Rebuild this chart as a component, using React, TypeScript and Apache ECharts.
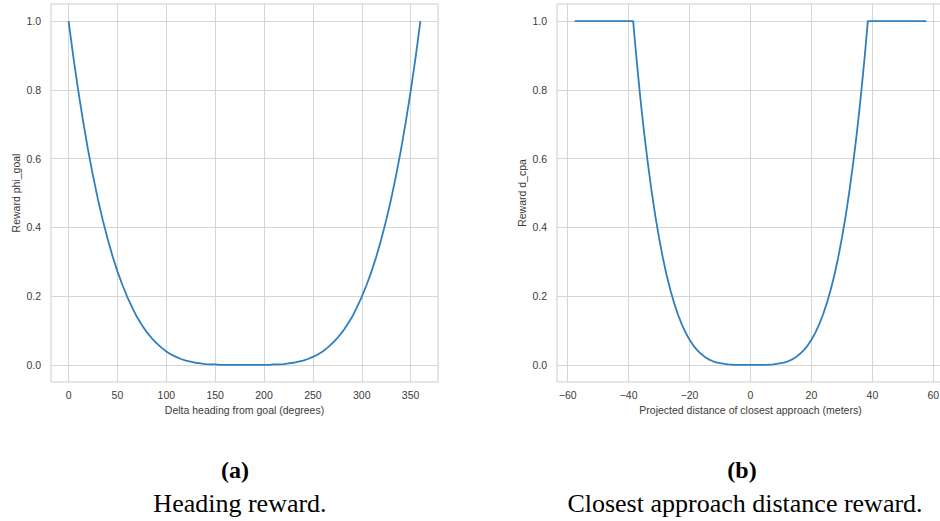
import React, { useEffect, useRef } from "react";
import * as echarts from "echarts";

// Heading reward (a)
const headingDeg = [
  0, 5, 10, 15, 20, 25, 30, 35, 40, 45, 50, 55, 60, 65, 70, 75, 80, 85, 90, 95,
  100, 105, 110, 115, 120, 125, 130, 135, 140, 145, 150, 155, 160, 165, 170, 175,
  180, 185, 190, 195, 200, 205, 210, 215, 220, 225, 230, 235, 240, 245, 250, 255,
  260, 265, 270, 275, 280, 285, 290, 295, 300, 305, 310, 315, 320, 325, 330, 335,
  340, 345, 350, 355, 360,
];
const headingReward = [
  1, 0.893, 0.796, 0.706, 0.624, 0.55, 0.482, 0.421, 0.366, 0.316, 0.272, 0.233,
  0.198, 0.167, 0.139, 0.116, 0.095, 0.078, 0.063, 0.05, 0.039, 0.03, 0.023, 0.017,
  0.012, 0.009, 0.006, 0.004, 0.002, 0.001, 0.001, 0, 0, 0, 0, 0,
  0, 0, 0, 0, 0, 0, 0.001, 0.001, 0.002, 0.004, 0.006, 0.009, 0.012, 0.017, 0.023,
  0.03, 0.039, 0.05, 0.063, 0.078, 0.095, 0.116, 0.139, 0.167, 0.198, 0.233, 0.272,
  0.316, 0.366, 0.421, 0.482, 0.55, 0.624, 0.706, 0.796, 0.893, 1,
];
const headingTicks = [0, 50, 100, 150, 200, 250, 300, 350];

// Closest approach distance reward (b)
const cpaMeters = [
  -57.7, -50, -45, -40, -38.5, -38, -37.5, -37, -36.5, -36, -35.5, -35, -34.5,
  -33.75, -32.5, -31.25, -30, -28.75, -27.5, -26.25, -25, -23.75, -22.5, -21.25,
  -20, -18.75, -17.5, -16.25, -15, -13.75, -12.5, -11.25, -10, -7.5, -5, -2.5,
  0,
  2.5, 5, 7.5, 10, 11.25, 12.5, 13.75, 15, 16.25, 17.5, 18.75, 20, 21.25, 22.5,
  23.75, 25, 26.25, 27.5, 28.75, 30, 31.25, 32.5, 33.75, 34.5, 35, 35.5, 36, 36.5,
  37, 37.5, 38, 38.5, 40, 45, 50, 57.7,
];
const cpaReward = [
  1, 1, 1, 1, 1, 0.949, 0.9, 0.853, 0.808, 0.764, 0.723, 0.683, 0.645,
  0.591, 0.508, 0.434, 0.369, 0.311, 0.26, 0.216, 0.178, 0.145, 0.117, 0.093,
  0.073, 0.056, 0.043, 0.032, 0.023, 0.016, 0.011, 0.007, 0.005, 0.001, 0, 0,
  0,
  0, 0, 0.001, 0.005, 0.007, 0.011, 0.016, 0.023, 0.032, 0.043, 0.056, 0.073, 0.093,
  0.117, 0.145, 0.178, 0.216, 0.26, 0.311, 0.369, 0.434, 0.508, 0.591, 0.645,
  0.683, 0.723, 0.764, 0.808, 0.853, 0.9, 0.949, 1, 1, 1, 1, 1,
];
const cpaTicks = [-60, -40, -20, 0, 20, 40, 60];

const rewardTicks = [0, 0.2, 0.4, 0.6, 0.8, 1.0];

const LINE = "#2f7fbf";
const GRIDC = "#d6d6d6";
const TXT = "#3a3a3a";
const FONT = '"Liberation Sans", Arial, sans-serif';

function xAxisCfg(grid: number, min: number, max: number, ticks: number[], name: string, fmt: (v: number) => string) {
  return {
    type: "value",
    gridIndex: grid,
    min,
    max,
    name,
    nameLocation: "middle",
    nameGap: 22,
    nameTextStyle: { fontSize: 10.5, color: TXT, fontFamily: FONT },
    axisLine: { show: false },
    axisTick: { show: false, customValues: ticks },
    axisLabel: { customValues: ticks, fontSize: 10.5, color: TXT, fontFamily: FONT, margin: 7, formatter: fmt },
    splitLine: { show: true, lineStyle: { color: GRIDC, width: 1 } },
  };
}

function yAxisCfg(grid: number, name: string) {
  return {
    type: "value",
    gridIndex: grid,
    min: -0.05,
    max: 1.05,
    name,
    nameLocation: "middle",
    nameGap: 30,
    nameTextStyle: { fontSize: 10.5, color: TXT, fontFamily: FONT },
    axisLine: { show: false },
    axisTick: { show: false, customValues: rewardTicks },
    axisLabel: {
      customValues: rewardTicks,
      fontSize: 10.5,
      color: TXT,
      fontFamily: FONT,
      margin: 10,
      formatter: (v: number) => v.toFixed(1),
    },
    splitLine: { show: true, lineStyle: { color: GRIDC, width: 1 } },
  };
}

export default function App() {
  const ref = useRef<HTMLDivElement>(null);
  useEffect(() => {
    if (!ref.current) return;
    const chart = echarts.init(ref.current, undefined, { renderer: "svg" });
    const minusFmt = (v: number) => (v < 0 ? "\u2212" + Math.abs(v) : String(v));
    chart.setOption({
      animation: false,
      backgroundColor: "#ffffff",
      grid: [
        { left: 51, top: 4, width: 387, height: 378, show: true, borderColor: "#cccccc", borderWidth: 1, backgroundColor: "transparent" },
        { left: 557, top: 4, width: 387, height: 378, show: true, borderColor: "#cccccc", borderWidth: 1, backgroundColor: "transparent" },
      ],
      xAxis: [
        xAxisCfg(0, -18, 378, headingTicks, "Delta heading from goal (degrees)", (v: number) => String(v)),
        xAxisCfg(1, -63.5, 63.5, cpaTicks, "Projected distance of closest approach (meters)", minusFmt),
      ],
      yAxis: [yAxisCfg(0, "Reward phi_goal"), yAxisCfg(1, "Reward d_cpa")],
      series: [
        {
          type: "line",
          xAxisIndex: 0,
          yAxisIndex: 0,
          showSymbol: false,
          data: headingDeg.map((x, i) => [x, headingReward[i]]),
          lineStyle: { color: LINE, width: 1.8 },
          itemStyle: { color: LINE },
        },
        {
          type: "line",
          xAxisIndex: 1,
          yAxisIndex: 1,
          showSymbol: false,
          data: cpaMeters.map((x, i) => [x, cpaReward[i]]),
          lineStyle: { color: LINE, width: 1.8 },
          itemStyle: { color: LINE },
        },
      ],
      graphic: [
        { type: "text", style: { text: "(a)", x: 235, y: 470, textAlign: "center", textVerticalAlign: "middle", font: 'bold 24px "Liberation Serif", serif', fill: "#000" } },
        { type: "text", style: { text: "Heading reward.", x: 240, y: 503, textAlign: "center", textVerticalAlign: "middle", font: '26px "Liberation Serif", serif', fill: "#000" } },
        { type: "text", style: { text: "(b)", x: 742, y: 470, textAlign: "center", textVerticalAlign: "middle", font: 'bold 24px "Liberation Serif", serif', fill: "#000" } },
        { type: "text", style: { text: "Closest approach distance reward.", x: 745, y: 503, textAlign: "center", textVerticalAlign: "middle", font: '26px "Liberation Serif", serif', fill: "#000" } },
      ],
    });
    return () => chart.dispose();
  }, []);
  return (
    <div style={{ position: "absolute", left: 0, top: 0, width: 940, height: 521, overflow: "hidden", background: "#fff" }}>
      <div ref={ref} style={{ position: "absolute", left: 0, top: 0, width: 960, height: 521 }} />
    </div>
  );
}
